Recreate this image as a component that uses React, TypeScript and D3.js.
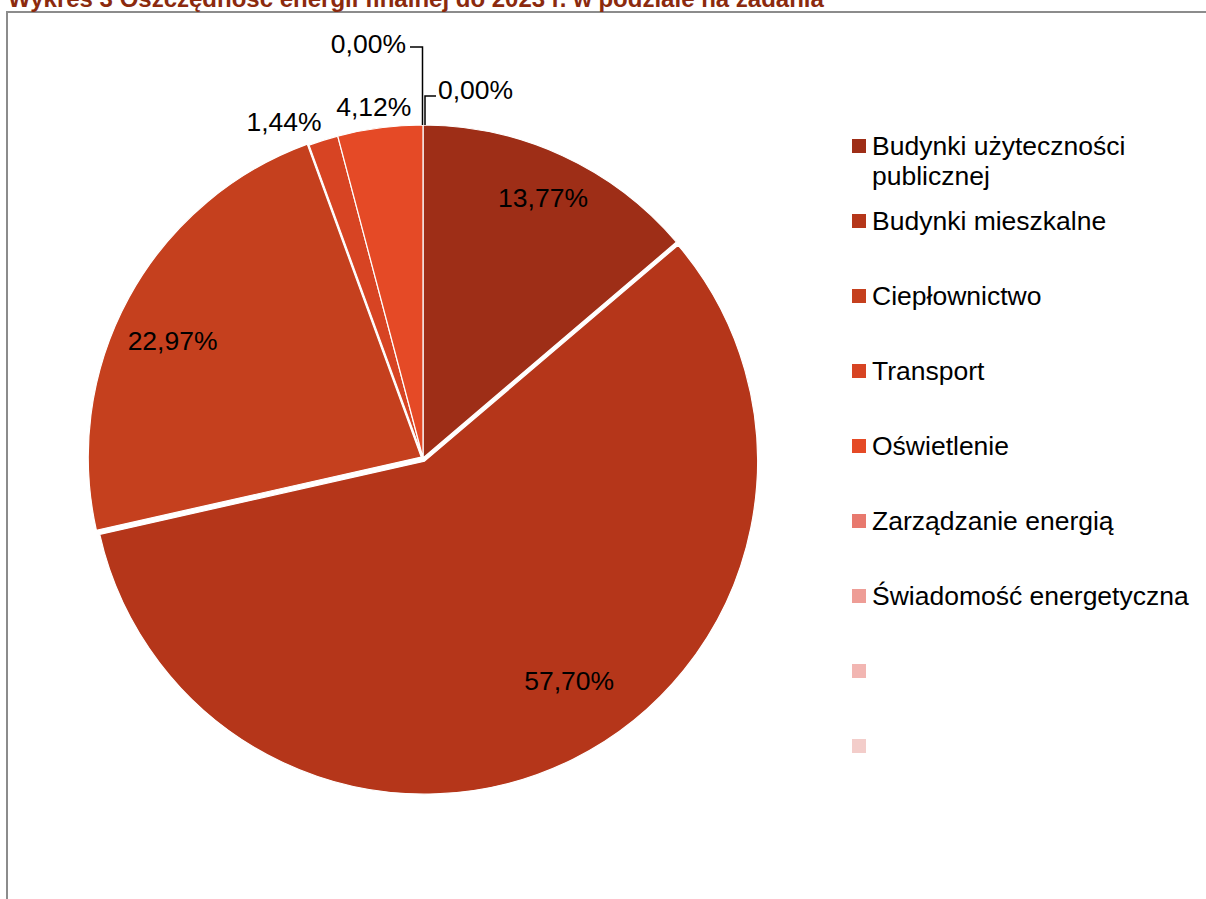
import React from 'react';
import * as d3 from 'd3';

const title = 'Wykres 3 Oszczędność energii finalnej do 2023 r. w podziale na zadania';
const categories = [
  'Budynki użyteczności publicznej',
  'Budynki mieszkalne',
  'Ciepłownictwo',
  'Transport',
  'Oświetlenie',
  'Zarządzanie energią',
  'Świadomość energetyczna',
  '',
  '',
];
const values: (number | null)[] = [13.77, 57.7, 22.97, 1.44, 4.12, 0, 0, null, null];
const colors = ['#9E2E17', '#B5361A', '#C5401E', '#D74423', '#E54A26', '#E8796E', '#EE9D96', '#F2B6B2', '#F3CDCA'];

const W = 1206;
const H = 899;
const cx = 423;
const cy = 458;
const R = 333;
const FONT = '"Liberation Sans", Arial, sans-serif';
const FS = 26.5;

// layout tweaks (explosion and label placement), not data
const explode = [0, 3.5, 2, 0, 0, 0, 0, 0, 0];
const insideLabel: Record<number, { rf: number; da: number }> = {
  0: { rf: 0.86, da: 0 },
  1: { rf: 0.8, da: -6.7 },
  2: { rf: 0.83, da: -3.6 },
};
const outsideLabel: Record<number, { r: number; da: number }> = {
  3: { r: 366, da: -4.9 },
  4: { r: 357, da: -0.5 },
};

const fmt = (v: number) => v.toFixed(2).replace('.', ',') + '%';

function wrapText(text: string, maxW: number): string[] {
  const canvas = document.createElement('canvas');
  const ctx = canvas.getContext('2d')!;
  ctx.font = `${FS}px ${FONT}`;
  const words = text.split(' ');
  const lines: string[] = [];
  let cur = '';
  for (const w of words) {
    const t = cur ? cur + ' ' + w : w;
    if (ctx.measureText(t).width > maxW && cur) {
      lines.push(cur);
      cur = w;
    } else cur = t;
  }
  lines.push(cur);
  return lines;
}

export default function App() {
  const pie = d3
    .pie<number | null>()
    .sort(null)
    .value((d) => d ?? 0)
    .startAngle(0)
    .endAngle(2 * Math.PI);
  const arcs = pie(values);
  const arcGen = d3.arc<d3.PieArcDatum<number | null>>().innerRadius(0).outerRadius(R);

  const polar = (ang: number, r: number): [number, number] => [cx + r * Math.sin(ang), cy - r * Math.cos(ang)];
  const deg = Math.PI / 180;

  const legendX = 852;
  const legendY0 = 146;
  const legendStep = 75;
  const sq = 14;

  const topY = cy - R;

  return (
    <svg width={W} height={H} style={{ position: 'absolute', left: 0, top: 0, background: '#fff' }} fontFamily={FONT}>
      <rect x={0} y={0} width={W} height={H} fill="#fff" />
      <path d={`M7,${H} V12 H${W}`} fill="none" stroke="#8C8C8C" strokeWidth={2} />
      <text x={8} y={7} fontSize={24} fontWeight="bold" fill="#8B2A0E">
        {title}
      </text>

      <g>
        {arcs.map((a, i) => {
          if (!a.value) return null;
          const mid = (a.startAngle + a.endAngle) / 2;
          const dx = explode[i] * Math.sin(mid);
          const dy = -explode[i] * Math.cos(mid);
          return (
            <path
              key={i}
              d={arcGen(a) || ''}
              transform={`translate(${cx + dx},${cy + dy})`}
              fill={colors[i]}
              stroke="#fff"
              strokeWidth={1.2}
              strokeLinejoin="round"
            />
          );
        })}
      </g>

      <g fontSize={FS} fill="#000">
        {arcs.map((a, i) => {
          if (values[i] === null) return null;
          const mid = (a.startAngle + a.endAngle) / 2;
          if (insideLabel[i]) {
            const p = polar(mid + insideLabel[i].da * deg, R * insideLabel[i].rf);
            return (
              <text key={i} x={p[0]} y={p[1]} textAnchor="middle" dy="0.35em">
                {fmt(values[i] as number)}
              </text>
            );
          }
          if (outsideLabel[i]) {
            const p = polar(mid + outsideLabel[i].da * deg, outsideLabel[i].r);
            return (
              <text key={i} x={p[0]} y={p[1] + 2} textAnchor="middle" dy="0.35em">
                {fmt(values[i] as number)}
              </text>
            );
          }
          return null;
        })}
        {/* zero-value labels with leader lines */}
        {arcs[5] && (
          <g>
            <path
              d={`M${cx - 0.5},${topY} V${topY - 78} H${cx - 13}`}
              fill="none"
              stroke="#000"
              strokeWidth={1.5}
            />
            <text x={cx - 17} y={topY - 81} textAnchor="end" dy="0.35em">
              {fmt(values[5] as number)}
            </text>
          </g>
        )}
        {arcs[6] && (
          <g>
            <path
              d={`M${cx + 2},${topY} V${topY - 29} H${cx + 13}`}
              fill="none"
              stroke="#000"
              strokeWidth={1.5}
            />
            <text x={cx + 15} y={topY - 35} textAnchor="start" dy="0.35em">
              {fmt(values[6] as number)}
            </text>
          </g>
        )}
      </g>

      <g fontSize={FS} fill="#000">
        {categories.map((c, i) => {
          const yc = legendY0 + i * legendStep;
          const lines = c ? wrapText(c, 330) : [];
          return (
            <g key={i}>
              <rect x={legendX} y={yc - sq / 2} width={sq} height={sq} fill={colors[i]} />
              {lines.map((l, j) => (
                <text key={j} x={legendX + 20} y={yc + j * 30} dy="0.35em">
                  {l}
                </text>
              ))}
            </g>
          );
        })}
      </g>
    </svg>
  );
}
